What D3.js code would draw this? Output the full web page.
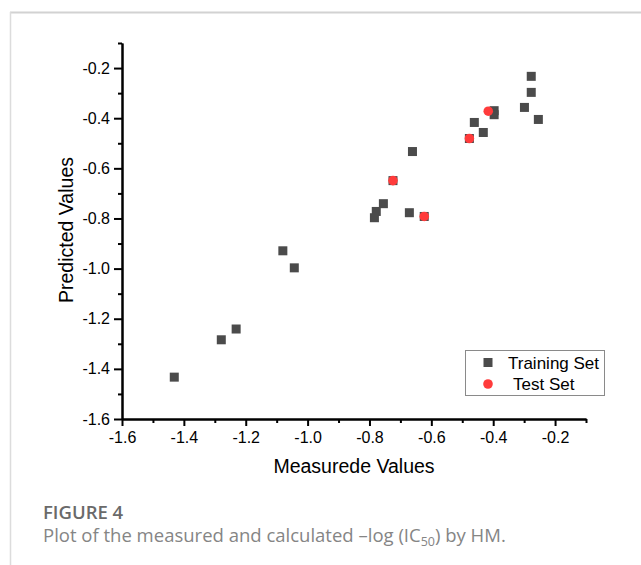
<!DOCTYPE html>
<html>
<head>
<meta charset="utf-8">
<script src="https://cdn.jsdelivr.net/npm/d3@7"></script>
<style>
  html, body { margin: 0; padding: 0; background: #fff; }
  svg { display: block; }
</style>
</head>
<body>
<svg id="chart" width="641" height="565"></svg>
<script>
// ---- data ----
const trainingX = [-0.277, -0.277, -0.299, -0.254, -0.397, -0.397, -0.461, -0.432, -0.477, -0.661, -0.724, -0.755, -0.778, -0.784, -0.671, -0.623, -1.080, -1.043, -1.231, -1.279, -1.431];
const trainingY = [-0.233, -0.297, -0.357, -0.405, -0.370, -0.386, -0.417, -0.457, -0.481, -0.533, -0.649, -0.741, -0.772, -0.797, -0.777, -0.792, -0.929, -0.997, -1.241, -1.284, -1.433];
const testX = [-0.416, -0.477, -0.724, -0.623];
const testY = [-0.372, -0.481, -0.649, -0.792];
const xTicks = [-1.6, -1.4, -1.2, -1.0, -0.8, -0.6, -0.4, -0.2];
const xTickLabels = ["-1.6", "-1.4", "-1.2", "-1.0", "-0.8", "-0.6", "-0.4", "-0.2"];
const xMinorTicks = [-1.5, -1.3, -1.1, -0.9, -0.7, -0.5, -0.3, -0.1];
const yTicks = [-1.6, -1.4, -1.2, -1.0, -0.8, -0.6, -0.4, -0.2];
const yTickLabels = ["-1.6", "-1.4", "-1.2", "-1.0", "-0.8", "-0.6", "-0.4", "-0.2"];
const yMinorTicks = [-1.5, -1.3, -1.1, -0.9, -0.7, -0.5, -0.3, -0.1];
const seriesNames = ["Training Set", "Test Set"];
const xTitle = "Measurede Values";
const yTitle = "Predicted Values";

(function () {
// ---- layout ----
const svg = d3.select("#chart");
const pLeft = 122, pRight = 586, pTop = 43, pBottom = 419;
const x = d3.scaleLinear().domain([-1.6, -0.1]).range([pLeft, pRight]);
const y = d3.scaleLinear().domain([-1.6, -0.1]).range([pBottom, pTop]);
const tickFont = "'Liberation Sans', Arial, sans-serif";

// frame
svg.append("line").attr("x1", 10).attr("x2", 641).attr("y1", 12.5).attr("y2", 12.5)
  .attr("stroke", "#d2d2d2").attr("stroke-width", 2);
svg.append("line").attr("x1", 10.5).attr("x2", 10.5).attr("y1", 12).attr("y2", 565)
  .attr("stroke", "#dcdcdc").attr("stroke-width", 1.5);

// axes
function styleAxis(g) {
  g.selectAll("path.domain").attr("stroke", "#000").attr("stroke-width", 2);
  g.selectAll(".tick line").attr("stroke", "#000").attr("stroke-width", 2);
  g.selectAll(".tick text").attr("fill", "#000").style("font-family", tickFont).style("font-size", "16px");
}
const xAxis = svg.append("g").attr("transform", `translate(0,${pBottom})`)
  .call(d3.axisBottom(x).tickValues(xTicks).tickFormat((d, i) => xTickLabels[i]).tickSize(7).tickSizeOuter(0).tickPadding(6));
styleAxis(xAxis);
const xMinor = svg.append("g").attr("transform", `translate(0,${pBottom})`)
  .call(d3.axisBottom(x).tickValues(xMinorTicks).tickFormat("").tickSize(4).tickSizeOuter(0));
styleAxis(xMinor);

const yAxis = svg.append("g").attr("transform", `translate(${pLeft},0)`)
  .call(d3.axisLeft(y).tickValues(yTicks).tickFormat((d, i) => yTickLabels[i]).tickSize(8).tickSizeOuter(0).tickPadding(4));
styleAxis(yAxis);
const yMinor = svg.append("g").attr("transform", `translate(${pLeft},0)`)
  .call(d3.axisLeft(y).tickValues(yMinorTicks).tickFormat("").tickSize(4).tickSizeOuter(0));
styleAxis(yMinor);

// axis titles
svg.append("text").attr("x", (pLeft + pRight) / 2).attr("y", 473)
  .attr("text-anchor", "middle").style("font-family", tickFont).style("font-size", "19.5px")
  .attr("fill", "#000").text(xTitle);
svg.append("text").attr("transform", `translate(73,230) rotate(-90)`)
  .attr("text-anchor", "middle").style("font-family", tickFont).style("font-size", "19.5px")
  .attr("fill", "#000").text(yTitle);

// points
const sq = 9;
const trainData = trainingX.map((v, i) => ({ x: v, y: trainingY[i] }));
const testData = testX.map((v, i) => ({ x: v, y: testY[i] }));
svg.append("g").selectAll("rect").data(trainData).join("rect")
  .attr("x", d => x(d.x) - sq / 2).attr("y", d => y(d.y) - sq / 2)
  .attr("width", sq).attr("height", sq).attr("fill", "#4b4b4b");
svg.append("g").selectAll("circle").data(testData).join("circle")
  .attr("cx", d => x(d.x)).attr("cy", d => y(d.y)).attr("r", 4.8).attr("fill", "#ff3b3b");

// legend
const lg = svg.append("g");
lg.append("rect").attr("x", 465.5).attr("y", 350.5).attr("width", 139).attr("height", 45)
  .attr("fill", "#fff").attr("stroke", "#8a8a8a").attr("stroke-width", 1);
lg.append("rect").attr("x", 488 - 4.5).attr("y", 362.5 - 4.5).attr("width", sq).attr("height", sq).attr("fill", "#4b4b4b");
lg.append("circle").attr("cx", 488).attr("cy", 384).attr("r", 4.8).attr("fill", "#ff3b3b");
lg.append("text").attr("x", 508).attr("y", 368.5).style("font-family", tickFont).style("font-size", "17px")
  .attr("fill", "#000").text(seriesNames[0]);
lg.append("text").attr("x", 513).attr("y", 390).style("font-family", tickFont).style("font-size", "17px")
  .attr("fill", "#000").text(seriesNames[1]);

// caption
const capFont = "'Open Sans', 'Noto Sans', sans-serif";
svg.append("text").attr("x", 43).attr("y", 519).style("font-family", capFont).style("font-size", "18.5px")
  .style("font-weight", "600").attr("fill", "#6a6a6a").text("FIGURE 4");
const cap = svg.append("text").attr("x", 43).attr("y", 542).style("font-family", capFont).style("font-size", "18.5px")
  .attr("fill", "#858585");
cap.append("tspan").text("Plot of the measured and calculated \u2013log (IC");
cap.append("tspan").attr("dy", 4).style("font-size", "12.5px").text("50");
cap.append("tspan").attr("dy", -4).text(") by HM.");
})();
</script>
</body>
</html>
